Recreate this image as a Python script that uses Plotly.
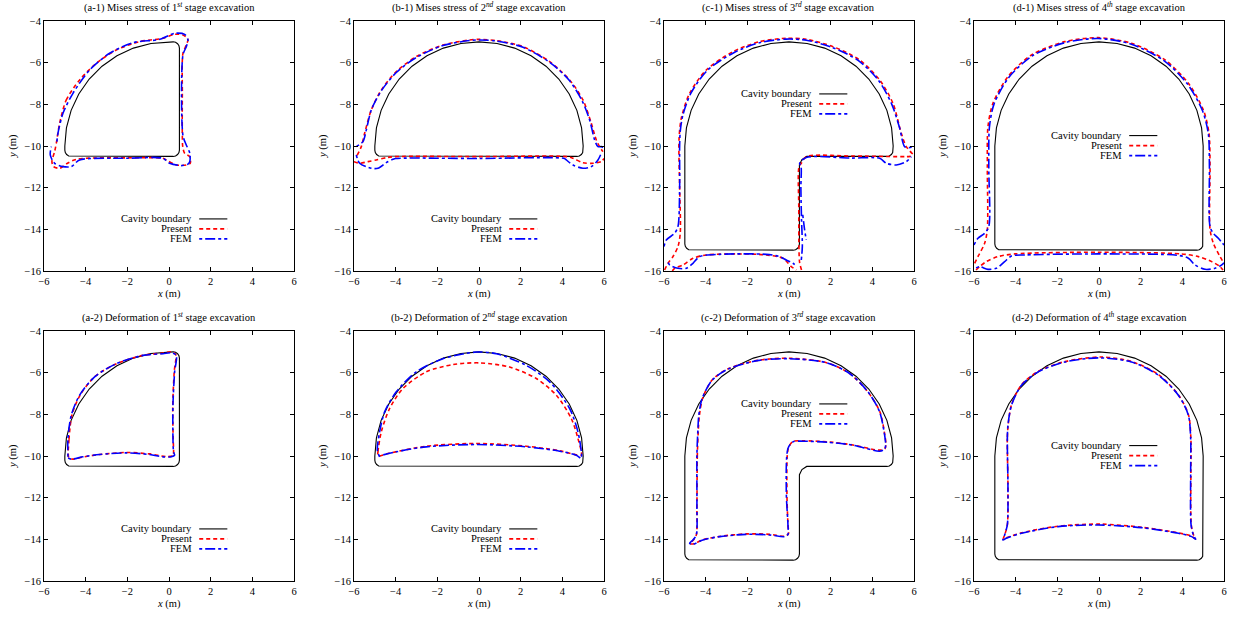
import plotly.graph_objects as go

# ---------------- data ----------------
# Cavity boundaries (x, y in m)
cav1_x = [-5.0, -4.924, -4.698, -4.33, -3.83, -3.214, -2.5, -1.71, -0.868, 0.0,
          0.2, 0.315, 0.412, 0.477, 0.5, 0.5, 0.477, 0.412, 0.315, 0.2,
          -4.7, -4.815, -4.912, -4.977, -5.0, -5.0]
cav1_y = [-10.0, -9.132, -8.29, -7.5, -6.786, -6.17, -5.67, -5.302, -5.076, -5.0,
          -5.0, -5.023, -5.088, -5.185, -5.3, -10.2, -10.315, -10.412, -10.477, -10.5,
          -10.5, -10.477, -10.412, -10.315, -10.2, -10.0]

arc_x = [-5.0, -4.924, -4.698, -4.33, -3.83, -3.214, -2.5, -1.71, -0.868, 0.0,
         0.868, 1.71, 2.5, 3.214, 3.83, 4.33, 4.698, 4.924, 5.0]
arc_y = [-10.0, -9.132, -8.29, -7.5, -6.786, -6.17, -5.67, -5.302, -5.076, -5.0,
         -5.076, -5.302, -5.67, -6.17, -6.786, -7.5, -8.29, -9.132, -10.0]

cav2_x = arc_x + [5.0, 4.977, 4.912, 4.815, 4.7, -4.7, -4.815, -4.912, -4.977, -5.0, -5.0]
cav2_y = arc_y + [-10.2, -10.315, -10.412, -10.477, -10.5, -10.5, -10.477, -10.412, -10.315, -10.2, -10.0]

cav3_x = arc_x + [5.0, 4.977, 4.912, 4.815, 4.7, 0.85, 0.62, 0.5, 0.5, 0.477, 0.412, 0.315, 0.2,
                  -4.7, -4.815, -4.912, -4.977, -5.0, -5.0]
cav3_y = arc_y + [-10.2, -10.315, -10.412, -10.477, -10.5, -10.5, -10.65, -10.9, -14.7, -14.815, -14.912, -14.977, -15.0,
                  -15.0, -14.977, -14.912, -14.815, -14.7, -10.0]

cav4_x = arc_x + [5.0, 4.977, 4.912, 4.815, 4.7, -4.7, -4.815, -4.912, -4.977, -5.0, -5.0]
cav4_y = arc_y + [-14.7, -14.815, -14.912, -14.977, -15.0, -15.0, -14.977, -14.912, -14.815, -14.7, -10.0]

# (a-1) Mises stress, stage 1
a1_present_x = [-5.25, -4.93, -4.29, -3.49, -2.53, -1.41, -0.29, 0.27, 0.67, 0.91, 0.83, 0.67, 0.64, 0.64, 0.66,
                0.75, 0.99, 1.02, 0.83, 0.35, -0.13, -0.29, -2.0, -4.45, -4.93, -5.25, -5.54, -5.62, -5.49, -5.41, -5.25]
a1_present_y = [-8.91, -7.79, -6.83, -6.03, -5.39, -4.99, -4.83, -4.64, -4.67, -4.88, -5.15, -5.55, -7.5, -9.5, -10.03,
                -10.35, -10.51, -10.83, -10.91, -10.91, -10.67, -10.59, -10.57, -10.64, -10.86, -11.07, -10.99, -10.75, -10.27, -9.87, -8.91]
a1_fem_x = [-5.38, -5.33, -5.09, -4.61, -3.81, -2.85, -1.73, -0.45, 0.27, 0.75, 0.91, 0.83, 0.67, 0.67, 0.83,
            1.0, 1.0, 0.91, 0.59, 0.03, -0.29, -2.0, -4.29, -4.69, -5.09, -5.49, -5.7, -5.65]
a1_fem_y = [-9.79, -9.39, -8.43, -7.47, -6.35, -5.55, -5.04, -4.88, -4.59, -4.64, -4.91, -5.23, -5.63, -9.5, -9.95,
            -10.35, -10.75, -10.87, -10.94, -10.83, -10.59, -10.59, -10.67, -10.99, -10.99, -10.83, -10.43, -10.03]

# (b-1) Mises stress, stage 2
b1_present_x = [-5.85, -5.65, -5.49, -5.17, -4.69, -3.97, -3.01, -1.73, -0.45, 0.03, 0.83, 2.11, 3.39, 4.35, 4.99,
                5.39, 5.63, 5.79, 5.95, None,
                -6.0, -5.73, -5.33, -4.93, -4.45, -4.0, 0.0, 4.2, 4.51, 4.99, 5.47, 5.87, 6.0]
b1_present_y = [-10.45, -10.03, -9.39, -8.27, -7.31, -6.43, -5.71, -5.15, -4.91, -4.88, -4.94, -5.23, -5.95, -6.83, -7.79,
                -8.91, -9.71, -10.03, -10.27, None,
                -10.75, -10.83, -10.75, -10.67, -10.56, -10.51, -10.51, -10.51, -10.59, -10.8, -10.83, -10.75, -10.6]
b1_fem_x = [-5.89, -5.57, -5.41, -5.17, -4.69, -3.97, -3.01, -1.73, -0.45, 0.03, 0.83, 2.11, 3.39, 4.35, 4.95,
            5.31, 5.55, 5.71, 5.87, 6.0, None,
            -5.89, -5.73, -5.17, -4.85, -4.45, -4.13, -4.0, 0.0, 4.1, 4.19, 4.51, 4.99, 5.39, 5.71, 5.87]
b1_fem_y = [-10.03, -9.79, -9.23, -8.27, -7.35, -6.47, -5.75, -5.18, -4.94, -4.91, -4.96, -5.26, -5.98, -6.87, -7.83,
            -8.75, -9.71, -10.03, -10.03, -10.1, None,
            -10.43, -10.83, -11.07, -11.07, -10.8, -10.64, -10.6, -10.6, -10.6, -10.67, -10.91, -11.07, -10.99, -10.67, -10.35]

# (c-1) Mises stress, stage 3
c1_present_x = [-5.97, -5.81, -5.57, -5.33, -5.22, -5.25, -5.28, -5.17, -4.77, -3.97, -2.69, -1.41, -0.13, 0.83, 2.11,
                3.39, 4.35, 4.99, 5.39, 5.63, 6.0, None,
                -5.6, -5.49, -5.09, -4.61, -3.97, -2.53, -1.09, -0.29, 0.11, 0.35, None,
                0.6, 0.51, 0.48, 0.47, 0.48, 0.59, 0.83, 3.0, 5.63, 6.0]
c1_present_y = [-15.95, -15.63, -15.31, -14.83, -14.19, -11.95, -9.71, -8.67, -7.47, -6.35, -5.47, -4.99, -4.83, -4.88, -5.23,
                -5.87, -6.83, -7.95, -9.39, -10.03, -10.45, None,
                -16.0, -15.87, -15.71, -15.39, -15.23, -15.18, -15.23, -15.39, -15.79, -15.95, None,
                -15.95, -15.6, -15.0, -13.0, -11.0, -10.83, -10.51, -10.48, -10.51, -10.48]
c1_fem_x = [-6.0, -5.89, -5.49, -5.33, -5.25, -5.25, -5.22, -5.09, -4.7, -3.93, -2.65, -1.37, -0.13, 0.83, 2.07,
            3.35, 4.31, 4.93, 5.3, 5.55, 5.75, 6.0, None,
            -5.8, -5.73, -5.33, -4.93, -4.61, -4.29, -3.33, -1.09, -0.45, -0.13, 0.19, 0.4, None,
            0.59, 0.64, 0.6, 0.57, 0.58, 0.51, 0.83, 3.0, 4.35, 4.67, 5.15, 5.63, 5.87, None,
            0.66, 0.75, 0.83]
c1_fem_y = [-14.83, -14.51, -14.19, -13.87, -12.0, -10.0, -9.3, -8.5, -7.45, -6.38, -5.52, -5.03, -4.87, -4.92, -5.27,
            -5.91, -6.87, -7.99, -9.1, -10.03, -10.08, -10.03, None,
            -15.6, -15.71, -15.87, -15.87, -15.63, -15.31, -15.2, -15.2, -15.31, -15.47, -15.63, -15.8, None,
            -15.47, -14.83, -13.5, -12.0, -11.0, -10.83, -10.55, -10.58, -10.59, -10.83, -10.91, -10.75, -10.51, None,
            -13.3, -14.03, -14.51]

# (d-1) Mises stress, stage 4
d1_present_x = [-5.97, -5.81, -5.49, -5.36, -5.36, -5.33, -5.09, -4.37, -3.24, -1.64, -0.04, 1.56, 3.17, 4.29, 5.01,
                5.28, 5.33, 5.33, 5.49, 5.81, 6.0, None,
                -5.9, -5.73, -5.41, -4.85, -4.04, -0.04, 3.97, 4.77, 5.41, 5.81, 5.95]
d1_present_y = [-15.63, -15.31, -14.67, -14.0, -11.0, -9.07, -7.95, -6.67, -5.63, -4.99, -4.8, -5.07, -5.87, -6.99, -8.27,
                -9.39, -11.0, -14.0, -14.67, -15.31, -15.63, None,
                -15.95, -15.79, -15.55, -15.31, -15.18, -15.1, -15.18, -15.31, -15.55, -15.79, -15.95]
d1_fem_x = [-6.0, -5.81, -5.49, -5.29, -5.29, -5.26, -5.04, -4.33, -3.2, -1.6, -0.04, 1.52, 3.13, 4.25, 4.97,
            5.25, 5.3, 5.33, 5.49, 5.73, 6.0, None,
            -5.9, -5.73, -5.33, -4.93, -4.53, -4.2, -3.56, -0.04, 3.81, 4.29, 4.61, 5.09, 5.57, 5.89, 6.0]
d1_fem_y = [-14.75, -14.43, -14.19, -13.87, -11.0, -9.1, -7.99, -6.71, -5.67, -5.03, -4.84, -5.1, -5.91, -7.03, -8.31,
            -9.43, -11.0, -13.87, -14.19, -14.43, -14.75, None,
            -15.85, -15.79, -15.92, -15.87, -15.55, -15.28, -15.23, -15.18, -15.25, -15.39, -15.71, -15.92, -15.87, -15.71, -15.6]

# (a-2) Deformation, stage 1
a2_present_x = [-4.8, -4.8, -4.65, -4.25, -3.55, -2.5, -1.25, -0.3, 0.1, 0.32, 0.25, 0.18, 0.2, 0.22, 0.2,
                -0.1, -0.93, -2.05, -3.33, -4.13, -4.6, -4.8]
a2_present_y = [-10.1, -9.2, -8.0, -7.05, -6.18, -5.56, -5.17, -5.06, -5.0, -5.12, -5.96, -7.56, -9.16, -9.8, -9.98,
                -10.03, -9.9, -9.83, -9.93, -10.05, -10.15, -10.1]
a2_fem_x = [-4.85, -4.85, -4.69, -4.29, -3.57, -2.53, -1.25, -0.29, 0.11, 0.35, 0.27, 0.19, 0.19, 0.22, 0.27,
            0.11, -0.29, -0.93, -2.05, -3.33, -4.13, -4.69, -4.85]
a2_fem_y = [-10.04, -9.16, -8.04, -7.08, -6.2, -5.57, -5.17, -5.09, -5.05, -5.17, -5.96, -7.56, -9.16, -9.8, -9.96,
            -10.04, -10.04, -9.93, -9.85, -9.93, -10.04, -10.15, -10.09]

# (b-2) Deformation, stage 2
b2_present_x = [-4.85, -4.85, -4.69, -4.29, -3.65, -2.53, -1.25, 0.03, 1.47, 2.75, 3.71, 4.43, 4.75, 4.91,
                4.67, 3.87, 2.27, -0.13, -2.53, -4.37, -4.85]
b2_present_y = [-10.0, -9.8, -8.84, -7.72, -6.76, -5.96, -5.61, -5.53, -5.73, -6.28, -7.08, -8.2, -9.16, -9.96,
                -9.94, -9.75, -9.53, -9.4, -9.53, -9.88, -10.0]
b2_fem_x = [-4.77, -4.88, -4.77, -4.53, -3.97, -3.01, -1.73, -0.13, 0.83, 2.27, 3.39, 4.35, 4.75, 4.91, 4.91,
            4.67, 3.87, 2.27, -0.13, -2.53, -3.97, -4.77]
b2_fem_y = [-10.04, -9.72, -8.84, -7.88, -6.92, -5.96, -5.33, -5.01, -5.09, -5.65, -6.44, -7.72, -8.84, -9.8, -10.12,
            -9.96, -9.77, -9.56, -9.45, -9.56, -9.8, -9.99]

# (c-2) Deformation, stage 3
c2_present_x = [-4.35, -4.4, -4.42, -4.45, -4.6, -4.75, -4.6, -4.13, -3.33, -2.05, -0.93, -0.2, -0.03, -0.05, -0.1,
                -0.03, 0.2, 0.67, 1.95, 3.07, 4.3, 4.6, 4.65, 4.6, 4.37, 3.8, 2.92, 1.8, 0.05, -1.44, -2.89, -3.69,
                -4.15, -4.3, -4.35]
c2_present_y = [-8.7, -9.96, -12.35, -13.79, -14.05, -14.2, -14.22, -14.02, -13.86, -13.74, -13.76, -13.85, -13.74, -13.3, -11.72,
                -9.62, -9.3, -9.27, -9.33, -9.47, -9.72, -9.66, -9.45, -9.0, -7.9, -6.94, -6.05, -5.52, -5.31, -5.4, -5.8, -6.35,
                -7.24, -8.04, -8.7]
c2_fem_x = [-4.37, -4.42, -4.42, -4.45, -4.61, -4.77, -4.61, -4.13, -3.33, -2.05, -0.93, -0.21, -0.05, -0.05, -0.13,
            -0.05, 0.19, 0.67, 1.95, 3.07, 4.35, 4.59, 4.64, 4.59, 4.35, 3.79, 2.91, 1.79, 0.03, -1.44, -2.89, -3.69,
            -4.17, -4.33, -4.37]
c2_fem_y = [-8.68, -9.96, -12.35, -13.79, -14.03, -14.19, -14.24, -14.03, -13.87, -13.76, -13.79, -13.87, -13.76, -13.31, -11.72,
            -9.64, -9.32, -9.29, -9.35, -9.48, -9.77, -9.67, -9.48, -9.0, -7.88, -6.92, -6.04, -5.52, -5.33, -5.41, -5.81, -6.36,
            -7.24, -8.04, -8.68]

# (d-2) Deformation, stage 4
d2_present_x = [-4.36, -4.4, -4.37, -4.4, -4.52, -4.6, -4.45, -3.72, -1.96, 0.1, 2.04, 3.81, 4.45, 4.63, 4.53,
                4.43, 4.41, 4.41, 4.3, 3.82, 2.86, 1.58, 0.1, -1.64, -2.92, -3.72, -4.2, -4.36]
d2_present_y = [-8.5, -9.16, -11.56, -13.31, -13.77, -14.0, -13.93, -13.69, -13.37, -13.27, -13.42, -13.69, -13.85, -13.98, -13.77,
                -13.31, -10.76, -9.16, -8.04, -7.08, -6.1, -5.47, -5.25, -5.47, -5.94, -6.58, -7.54, -8.5]
d2_fem_x = [-4.37, -4.4, -4.37, -4.4, -4.53, -4.61, -4.45, -3.72, -1.96, -0.04, 2.04, 3.81, 4.45, 4.64, 4.53,
            4.42, 4.4, 4.4, 4.29, 3.81, 2.85, 1.56, -0.04, -1.64, -2.92, -3.72, -4.2, -4.37]
d2_fem_y = [-8.52, -9.16, -11.56, -13.31, -13.79, -14.03, -13.95, -13.71, -13.39, -13.31, -13.44, -13.71, -13.87, -14.0, -13.79,
            -13.31, -10.76, -9.16, -8.04, -7.08, -6.12, -5.49, -5.29, -5.49, -5.96, -6.6, -7.56, -8.52]

titles = [
    "(a-1) Mises stress of 1<sup><i>st</i></sup> stage excavation",
    "(b-1) Mises stress of 2<sup><i>nd</i></sup> stage excavation",
    "(c-1) Mises stress of 3<sup><i>rd</i></sup> stage excavation",
    "(d-1) Mises stress of 4<sup><i>th</i></sup> stage excavation",
    "(a-2) Deformation of 1<sup><i>st</i></sup> stage excavation",
    "(b-2) Deformation of 2<sup><i>nd</i></sup> stage excavation",
    "(c-2) Deformation of 3<sup><i>rd</i></sup> stage excavation",
    "(d-2) Deformation of 4<sup><i>th</i></sup> stage excavation",
]
legend_labels = ["Cavity boundary", "Present", "FEM"]
x_title = "<i>x</i> (m)"
y_title = "<i>y</i> (m)"

# ---------------- layout / styling ----------------
W, H = 1235, 621
FONT = "Liberation Serif"
FS = 10.5
col_left = [44, 354, 664, 974]
row_top = [21, 331]
PW = 250
legend_top_y = [-13.5, -13.5, -7.5, -9.5]   # per column (data units)

cav = [(cav1_x, cav1_y), (cav2_x, cav2_y), (cav3_x, cav3_y), (cav4_x, cav4_y)]
panels = [
    (a1_present_x, a1_present_y, a1_fem_x, a1_fem_y),
    (b1_present_x, b1_present_y, b1_fem_x, b1_fem_y),
    (c1_present_x, c1_present_y, c1_fem_x, c1_fem_y),
    (d1_present_x, d1_present_y, d1_fem_x, d1_fem_y),
    (a2_present_x, a2_present_y, a2_fem_x, a2_fem_y),
    (b2_present_x, b2_present_y, b2_fem_x, b2_fem_y),
    (c2_present_x, c2_present_y, c2_fem_x, c2_fem_y),
    (d2_present_x, d2_present_y, d2_fem_x, d2_fem_y),
]

RED_DASH = "4px,3px"
BLUE_DASH = "3px,3px,10px,3px"

fig = go.Figure()
layout = dict(
    width=W, height=H, margin=dict(l=0, r=0, t=0, b=0, autoexpand=False),
    paper_bgcolor="white", plot_bgcolor="white", showlegend=False,
    font=dict(family=FONT, size=FS, color="black"),
)
annotations = []
shapes = []

for i in range(8):
    r, c = divmod(i, 4)
    n = i + 1
    xa = "xaxis" if n == 1 else f"xaxis{n}"
    ya = "yaxis" if n == 1 else f"yaxis{n}"
    xr = "x" if n == 1 else f"x{n}"
    yr = "y" if n == 1 else f"y{n}"
    L = col_left[c]
    T = row_top[r]
    axis_common = dict(
        showgrid=False, zeroline=False, showline=True, linecolor="black", linewidth=1,
        mirror="ticks", ticks="inside", ticklen=4, tickwidth=1, tickcolor="black",
        tickfont=dict(family=FONT, size=FS, color="black"), automargin=False,
    )
    layout[xa] = dict(axis_common, domain=[L / W, (L + PW) / W], range=[-6, 6], dtick=2, tick0=0,
                      anchor=yr)
    layout[ya] = dict(axis_common, domain=[1 - (T + PW) / H, 1 - T / H], range=[-16, -4], dtick=2, tick0=0,
                      anchor=xr)

    cx, cy = cav[c]
    px, py, fx, fy = panels[i]
    fig.add_trace(go.Scatter(x=cx, y=cy, mode="lines", xaxis=xr, yaxis=yr,
                             line=dict(color="black", width=1.1), name=legend_labels[0]))
    fig.add_trace(go.Scatter(x=px, y=py, mode="lines", xaxis=xr, yaxis=yr, connectgaps=False,
                             line=dict(color="#ff0000", width=1.6, dash=RED_DASH, shape="spline", smoothing=0.8),
                             name=legend_labels[1]))
    fig.add_trace(go.Scatter(x=fx, y=fy, mode="lines", xaxis=xr, yaxis=yr, connectgaps=False,
                             line=dict(color="#0000ff", width=1.6, dash=BLUE_DASH, shape="spline", smoothing=0.8),
                             name=legend_labels[2]))

    # title
    annotations.append(dict(text=titles[i], xref="paper", yref="paper",
                            x=(L + PW / 2) / W, y=1 - (T - 14) / H, xanchor="center", yanchor="middle",
                            showarrow=False, font=dict(family=FONT, size=FS)))
    # axis titles
    annotations.append(dict(text=x_title, xref="paper", yref="paper",
                            x=(L + PW / 2) / W, y=1 - (T + PW + 23) / H, xanchor="center", yanchor="middle",
                            showarrow=False, font=dict(family=FONT, size=FS)))
    annotations.append(dict(text=y_title, xref="paper", yref="paper", textangle=-90,
                            x=(L - 31) / W, y=1 - (T + PW / 2) / H, xanchor="center", yanchor="middle",
                            showarrow=False, font=dict(family=FONT, size=FS)))
    # gnuplot-style key: label right-aligned, line sample to its right
    ly = legend_top_y[c]
    styles = [dict(color="black", width=1.1),
              dict(color="#ff0000", width=1.6, dash=RED_DASH),
              dict(color="#0000ff", width=1.6, dash=BLUE_DASH)]
    for k in range(3):
        yy = ly - 0.48 * k
        annotations.append(dict(text=legend_labels[k], xref=xr, yref=yr, x=1.22, y=yy,
                                xanchor="right", yanchor="middle", showarrow=False,
                                font=dict(family=FONT, size=FS)))
        shapes.append(dict(type="line", xref=xr, yref=yr, x0=1.45, x1=2.8, y0=yy, y1=yy,
                           line=styles[k]))

layout["annotations"] = annotations
layout["shapes"] = shapes
fig.update_layout(**layout)
# remove the default 8px page margin so the figure fills the window exactly
fig.write_html("out.html", config={"displayModeBar": False},
               post_script="document.body.style.margin='0px';")
